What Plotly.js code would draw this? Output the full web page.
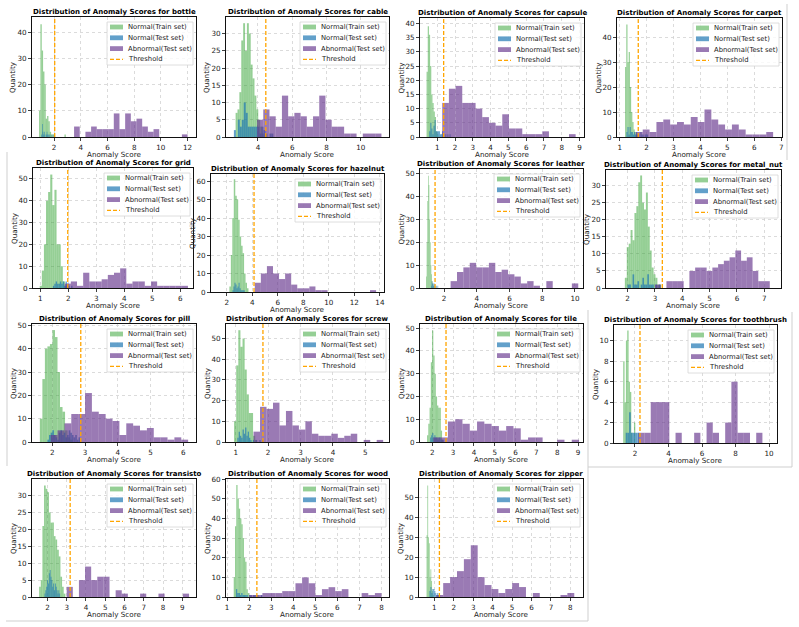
<!DOCTYPE html>
<html>
<head>
<meta charset="utf-8">
<script src="https://cdn.plot.ly/plotly-3.0.1.min.js"></script>
<style>
  html, body { margin: 0; padding: 0; background: #ffffff; }
  #chart { width: 799px; height: 627px; }
</style>
</head>
<body>
<div id="chart"></div>
<script>
// ---- data: anomaly-score histograms per category ----
const categories = ['bottle', 'cable', 'capsule', 'carpet', 'grid', 'hazelnut', 'leather', 'metal_nut',
                    'pill', 'screw', 'tile', 'toothbrush', 'transisto', 'wood', 'zipper'];

const seriesNames = ['Normal(Train set)', 'Normal(Test set)', 'Abnormal(Test set)', 'Threshold'];

const thresholds = [2.05, 4.46, 1.36, 1.69, 1.98, 4.14, 1.45, 3.27, 2.87, 1.84, 2.66, 2.30, 3.18, 2.35, 1.26];

// Normal (train set): first bin edge, bin width, counts
const trainStart = [0.88, 2.70, 0.40, 1.20, 0.98, 2.21, 0.90, 1.90, 1.62, 0.95, 1.75, 1.30, 1.57, 1.30, 0.60];
const trainWidth = [0.10, 0.11, 0.066, 0.045, 0.075, 0.115, 0.04, 0.07, 0.077, 0.065, 0.06, 0.08, 0.085, 0.058, 0.04];
const trainCounts = [
  [10, 43, 33, 25, 20, 7, 8, 6, 2, 1, 1, 1, 0, 0, 0, 0, 0, 0, 0, 1],
  [7, 8, 13, 28, 33, 25, 33, 30, 21, 17, 12, 8, 5, 3, 1],
  [23, 39, 36, 25, 15, 12, 9, 7, 2, 1],
  [28, 45, 30, 34, 20, 10, 6, 3, 2, 1],
  [1, 8, 20, 40, 44, 52, 38, 45, 20, 20, 10, 3, 1],
  [3, 20, 40, 61, 52, 50, 39, 30, 25, 21, 10, 5, 2],
  [5, 20, 38, 49, 45, 30, 20, 10, 6, 3, 2, 1],
  [3, 12, 13, 17, 14, 22, 24, 31, 33, 25, 23, 28, 18, 11, 6, 4, 3, 1, 1],
  [10, 27, 40, 41, 42, 48, 45, 30, 15, 13, 5, 2, 1],
  [10, 37, 54, 46, 50, 35, 23, 14, 14, 3, 1],
  [3, 8, 15, 35, 49, 38, 30, 20, 16, 15, 15, 5, 1],
  [8, 4, 10, 11, 6, 5, 1, 0, 2],
  [3, 5, 21, 33, 32, 31, 25, 22, 22, 18, 17, 14, 12, 6, 3, 1],
  [10, 36, 57, 50, 45, 40, 37, 30, 20, 18, 4, 2],
  [31, 56, 30, 27, 10, 14, 8, 3, 1]
];

// Normal (test set)
const testStart = [1.05, 2.60, 0.55, 1.25, 1.45, 2.45, 1.20, 2.00, 1.85, 1.05, 1.90, 1.45, 1.85, 1.40, 0.75];
const testWidth = [0.05, 0.115, 0.06, 0.04, 0.05, 0.08, 0.04, 0.06, 0.05, 0.04, 0.05, 0.10, 0.045, 0.06, 0.05];
const testCounts = [
  [1, 5, 2, 1, 2, 1, 0, 1, 2, 1, 1, 0, 1, 0, 1, 0, 0, 1, 0, 1],
  [2, 0, 5, 3, 5, 10, 7, 3, 3, 3, 3, 3, 3, 1, 3, 2, 1, 0, 1, 1],
  [2, 5, 3, 1, 4, 6, 2, 2, 2, 2, 1, 1, 2, 1, 0, 1, 0, 1, 0, 1],
  [2, 4, 1, 4, 2, 2, 1, 2, 1, 2, 1, 1, 0, 2, 1, 1, 0, 1, 1, 1],
  [1, 2, 3, 2, 2, 3, 2, 3, 1, 3, 2, 1, 0, 1],
  [1, 3, 5, 4, 2, 3, 5, 2, 1, 1, 1, 1],
  [1, 3, 2, 2, 1, 2, 1, 0, 1, 0, 1],
  [1, 1, 0, 4, 1, 1, 2, 0, 1, 3, 1, 1, 4, 1, 1, 1, 0, 1, 0, 1],
  [1, 3, 4, 5, 3, 2, 1, 4, 5, 3, 4, 2, 3, 5, 4, 3, 2, 3, 1, 2],
  [2, 5, 3, 2, 6, 4, 7, 3, 5, 2, 1, 0, 1, 0, 1, 0, 0, 1, 0, 1],
  [2, 3, 4, 2, 3, 2, 2, 1, 2, 2, 1, 1, 1],
  [1, 1, 3, 1, 1, 1, 1, 1],
  [1, 2, 3, 5, 4, 7, 8, 6, 5, 3, 4, 2, 4, 3, 2, 1, 2, 1],
  [4, 2, 2, 1, 2, 1, 1, 1, 1, 0, 1, 1, 0, 1, 1, 0, 1, 0, 0, 1],
  [3, 5, 2, 4, 4, 3, 2, 1, 2, 1, 1]
];

// Abnormal (test set)
const abnStart = [3.50, 3.95, 1.28, 1.60, 1.87, 4.20, 2.40, 3.00, 1.95, 1.55, 2.05, 2.20, 3.00, 2.00, 1.10];
const abnWidth = [0.425, 0.3625, 0.375, 0.255, 0.22, 0.475, 0.39, 0.21, 0.21, 0.20, 0.35, 0.37, 0.3175, 0.30, 0.355];
const abnCounts = [
  [4, 0, 2, 4, 3, 3, 3, 9, 3, 9, 6, 7, 4, 2, 3, 0, 0, 0, 0, 1],
  [5, 8, 6, 3, 12, 6, 7, 6, 3, 6, 12, 5, 3, 3, 1, 1, 0, 1, 1, 1],
  [12, 17, 18, 12, 12, 10, 7, 5, 4, 8, 3, 3, 1, 1, 1, 2, 0, 0, 0, 1],
  [2, 3, 2, 6, 7, 5, 6, 5, 8, 6, 11, 7, 5, 3, 5, 3, 1, 1, 1, 2],
  [2, 3, 1, 7, 3, 3, 4, 6, 7, 9, 2, 3, 3, 1, 3, 1, 1, 1, 1, 1],
  [5, 10, 14, 10, 7, 10, 4, 2, 2, 3, 1, 1, 0, 0, 0, 0, 0, 0, 0, 1],
  [3, 7, 9, 11, 9, 9, 11, 7, 8, 6, 5, 2, 3, 1, 0, 3, 0, 0, 0, 2],
  [1, 0, 2, 2, 2, 0, 5, 6, 6, 5, 6, 7, 8, 9, 11, 8, 9, 5, 2, 2],
  [3, 5, 8, 12, 12, 21, 13, 12, 10, 9, 3, 8, 7, 5, 6, 2, 2, 1, 2, 1],
  [5, 17, 16, 19, 8, 15, 8, 6, 10, 4, 3, 3, 4, 2, 3, 4, 0, 1, 0, 1],
  [2, 2, 9, 10, 8, 5, 9, 8, 7, 5, 7, 6, 1, 2, 2, 0, 0, 1, 0, 1],
  [1, 1, 4, 4, 4, 0, 1, 0, 0, 1, 0, 2, 1, 0, 2, 6, 1, 1, 0, 1],
  [3, 0, 5, 9, 5, 6, 6, 0, 2, 1, 0, 0, 1, 0, 0, 1, 0, 0, 0, 1],
  [1, 1, 2, 2, 2, 3, 3, 7, 10, 7, 1, 4, 5, 3, 4, 0, 0, 2, 1, 2],
  [1, 7, 10, 13, 19, 26, 10, 6, 4, 2, 4, 7, 5, 0, 2, 0, 0, 0, 1, 2]
];

// ---- layout settings ----
const W = 799, H = 627;
const FONT = 'DejaVu Sans, Liberation Sans, sans-serif';
const seriesColors = ['rgba(44,160,44,0.5)', 'rgba(31,119,180,0.7)', 'rgba(100,50,140,0.65)'];
const thresholdColor = '#ffa500';

// plot-area boxes in pixels: [left, top, right, bottom]
const panels = [
  [32, 17, 196, 137], [226, 17, 389, 137], [420, 18, 584, 137], [617, 18, 782, 137],
  [33, 168, 193, 288], [211, 174, 384, 292], [420, 169, 583, 288], [606, 170, 781, 288],
  [32, 324, 196, 442], [226, 324, 389, 442], [420, 324, 583, 442], [614, 325, 777, 443],
  [32, 479, 196, 597], [226, 479, 389, 597], [419, 479, 583, 597]
];
const xRanges = [[0.35, 12.63], [2.14, 11.64], [0.03, 9.25], [0.9, 7.03], [0.74, 6.45], [0.77, 14.32],
                 [0.53, 10.49], [1.21, 7.61], [1.38, 6.39], [0.70, 5.73], [1.41, 9.24], [0.75, 10.47],
                 [1.2, 9.71], [0.95, 8.34], [0.21, 8.65]];
const yRanges = [[0, 45.8], [0, 34.8], [0, 41.9], [0, 47.6], [0, 55], [0, 63.8], [0, 52], [0, 34.6],
                 [0, 50.6], [0, 57], [0, 51.8], [0, 11.55], [0, 34.9], [0, 60.1], [0, 59.3]];
const xSteps = [2, 2, 1, 1, 1, 2, 2, 1, 1, 1, 1, 2, 1, 1, 1];
const ySteps = [10, 5, 5, 10, 10, 10, 10, 5, 10, 10, 10, 2, 5, 10, 10];

// composite frame lines around some panels, in pixels: [x0, y0, x1, y1]
const frameLines = [[787, 4, 787, 160], [7, 152, 7, 466], [588, 310, 588, 621],
                    [6, 621, 588, 621], [588, 467, 792, 467], [792, 312, 792, 467]];

const fx = p => p / W;
const fy = p => 1 - p / H;

function binCenters(start, width, counts) {
  return counts.map((_, i) => start + width * (i + 0.5));
}

const traces = [];
const shapes = [];
const annotations = [];
const layout = {
  width: W, height: H,
  margin: { l: 0, r: 0, t: 0, b: 0 },
  paper_bgcolor: '#ffffff', plot_bgcolor: '#ffffff',
  showlegend: false, barmode: 'overlay',
  font: { family: FONT, size: 7.2, color: '#222222' }
};

const starts = [trainStart, testStart, abnStart];
const widths = [trainWidth, testWidth, abnWidth];
const countSets = [trainCounts, testCounts, abnCounts];

categories.forEach((cat, i) => {
  const n = i + 1;
  const xa = n === 1 ? 'x' : 'x' + n;
  const ya = n === 1 ? 'y' : 'y' + n;
  const xKey = n === 1 ? 'xaxis' : 'xaxis' + n;
  const yKey = n === 1 ? 'yaxis' : 'yaxis' + n;
  const [L, T, R, B] = panels[i];

  const common = {
    showline: true, mirror: true, linecolor: '#111111', linewidth: 1.4,
    ticks: 'outside', ticklen: 2.5, tickwidth: 0.8, tickcolor: '#111111',
    showgrid: true, gridcolor: '#d2d2d2', gridwidth: 0.8, griddash: 'dot',
    zeroline: false, tickfont: { family: FONT, size: 7.2, color: '#222222' },
    automargin: false, fixedrange: true, tick0: 0
  };
  layout[xKey] = Object.assign({}, common, {
    domain: [fx(L), fx(R)], range: xRanges[i], anchor: ya, dtick: xSteps[i]
  });
  layout[yKey] = Object.assign({}, common, {
    domain: [fy(B), fy(T)], range: yRanges[i], anchor: xa, dtick: ySteps[i]
  });

  // histogram bars for the three score sets
  for (let k = 0; k < 3; k++) {
    const s = starts[k][i], w = widths[k][i], c = countSets[k][i];
    traces.push({
      type: 'bar', name: seriesNames[k], xaxis: xa, yaxis: ya,
      x: binCenters(s, w, c), y: c, width: w,
      marker: { color: seriesColors[k], line: { width: 0 } },
      hoverinfo: 'skip'
    });
  }

  // decision threshold
  shapes.push({
    type: 'line', xref: xa, yref: ya + ' domain',
    x0: thresholds[i], x1: thresholds[i], y0: 0, y1: 1,
    line: { color: thresholdColor, width: 1.3, dash: '4px,2px' }
  });

  // legend box in the upper right of each panel
  const bR = R - 3, bL = bR - 86, bT = T + 5, bB = bT + 43;
  shapes.push({
    type: 'rect', xref: 'paper', yref: 'paper',
    x0: fx(bL), x1: fx(bR), y0: fy(bB), y1: fy(bT),
    fillcolor: 'rgba(255,255,255,0.8)', line: { color: '#d6d6d6', width: 0.8 }
  });
  seriesNames.forEach((label, k) => {
    const rowY = bT + 5 + 10.8 * k;
    if (k < 3) {
      shapes.push({
        type: 'rect', xref: 'paper', yref: 'paper',
        x0: fx(bL + 3), x1: fx(bL + 16), y0: fy(rowY + 2.4), y1: fy(rowY - 2.4),
        fillcolor: seriesColors[k], line: { width: 0 }
      });
    } else {
      shapes.push({
        type: 'line', xref: 'paper', yref: 'paper',
        x0: fx(bL + 3), x1: fx(bL + 16), y0: fy(rowY), y1: fy(rowY),
        line: { color: thresholdColor, width: 1.3, dash: '4px,2px' }
      });
    }
    annotations.push({
      xref: 'paper', yref: 'paper', x: fx(bL + 19), y: fy(rowY),
      xanchor: 'left', yanchor: 'middle', showarrow: false, text: label,
      font: { family: FONT, size: 6.8, color: '#222222' }
    });
  });

  // panel title and axis labels
  annotations.push({
    xref: 'paper', yref: 'paper', x: fx((L + R) / 2), y: fy(T - 5),
    xanchor: 'center', yanchor: 'middle', showarrow: false,
    text: '<b>Distribution of Anomaly Scores for ' + cat + '</b>',
    font: { family: FONT, size: 7, color: '#000000' }
  });
  annotations.push({
    xref: 'paper', yref: 'paper', x: fx((L + R) / 2), y: fy(B + 17),
    xanchor: 'center', yanchor: 'middle', showarrow: false,
    text: 'Anomaly Score', font: { family: FONT, size: 7.2, color: '#222222' }
  });
  annotations.push({
    xref: 'paper', yref: 'paper', x: fx(L - 19), y: fy((T + B) / 2),
    xanchor: 'center', yanchor: 'middle', showarrow: false, textangle: -90,
    text: 'Quantity', font: { family: FONT, size: 7.2, color: '#222222' }
  });
});

frameLines.forEach(([x0, y0, x1, y1]) => {
  shapes.push({
    type: 'line', xref: 'paper', yref: 'paper',
    x0: fx(x0), x1: fx(x1), y0: fy(y0), y1: fy(y1),
    line: { color: '#cfcfcf', width: 1 }
  });
});

layout.shapes = shapes;
layout.annotations = annotations;

Plotly.newPlot('chart', traces, layout, { staticPlot: true, displayModeBar: false });
</script>
</body>
</html>
